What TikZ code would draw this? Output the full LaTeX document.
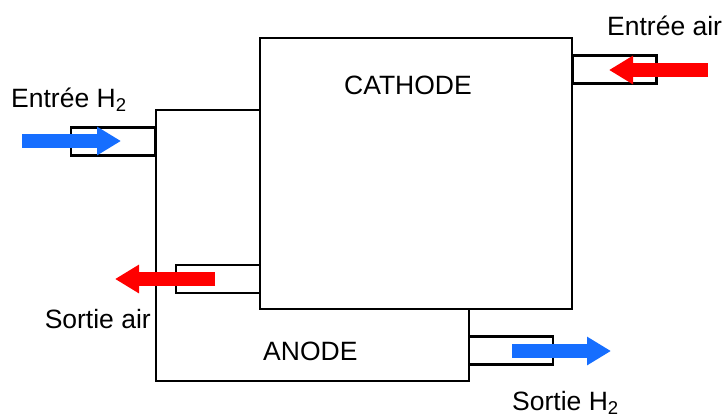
\documentclass[tikz,border=0pt]{standalone}
\usepackage{fontspec}
\setmainfont{Liberation Sans}
\usetikzlibrary{positioning,arrows.meta}
\definecolor{hblue}{RGB}{22,110,255}
\definecolor{ored}{RGB}{255,0,0}

\begin{document}
\begin{tikzpicture}[
  x=1pt,y=-1pt,
  wall/.style={draw=black,line width=2.6pt},
  tube/.style={wall,rectangle,inner sep=0pt,minimum width=84pt,minimum height=28pt},
  lbl/.style={inner sep=0pt,font=\fontsize{26.5}{30}\selectfont},
  flow/.style={line width=14pt,-{Triangle[length=24pt,width=27pt]}}
]
  \useasboundingbox (0,0) rectangle (724,418);

  % anode around the cathode
  \draw[wall] (260,110) -- (156,110) -- (156,381) -- (469,381) -- (469,309);
  \node[wall,rectangle,inner sep=0pt,minimum width=312pt,minimum height=271pt] (cathode) at (416,173.5) {};

  \node[tube] (h2in) at (113,141.5) {};
  \node[tube] (airin) at (614.5,69.5) {};
  \node[tube] (airout) at (218,279) {};
  \node[tube] (h2out) at (511,350.5) {};

  \node[lbl,anchor=base] (cathlbl) at (408,94) {CATHODE};
  \node[lbl,anchor=base west] (anodelbl) at (263,360) {ANODE};
  \node[lbl,anchor=base west] (h2inlbl) at (11,107) {Entrée H\textsubscript{2}};
  \node[lbl,anchor=base west] (airinlbl) at (607,35) {Entrée air};
  \node[lbl,anchor=base east] (airoutlbl) at (151,328) {Sortie air};
  \node[lbl,anchor=base west] (h2outlbl) at (512,410) {Sortie H\textsubscript{2}};

  % flows
  \coordinate (h2a) at (22,141);
  \coordinate (h2b) at (121,141);
  \coordinate (aira) at (708,70);
  \coordinate (airb) at (609,70);
  \coordinate (airc) at (215,279);
  \coordinate (aird) at (115,279);
  \coordinate (h2c) at (512,351);
  \coordinate (h2d) at (611,351);
  \draw[flow,hblue] (h2a) -- (h2b);
  \draw[flow,ored] (aira) -- (airb);
  \draw[flow,ored] (airc) -- (aird);
  \draw[flow,hblue] (h2c) -- (h2d);
\end{tikzpicture}
\end{document}
